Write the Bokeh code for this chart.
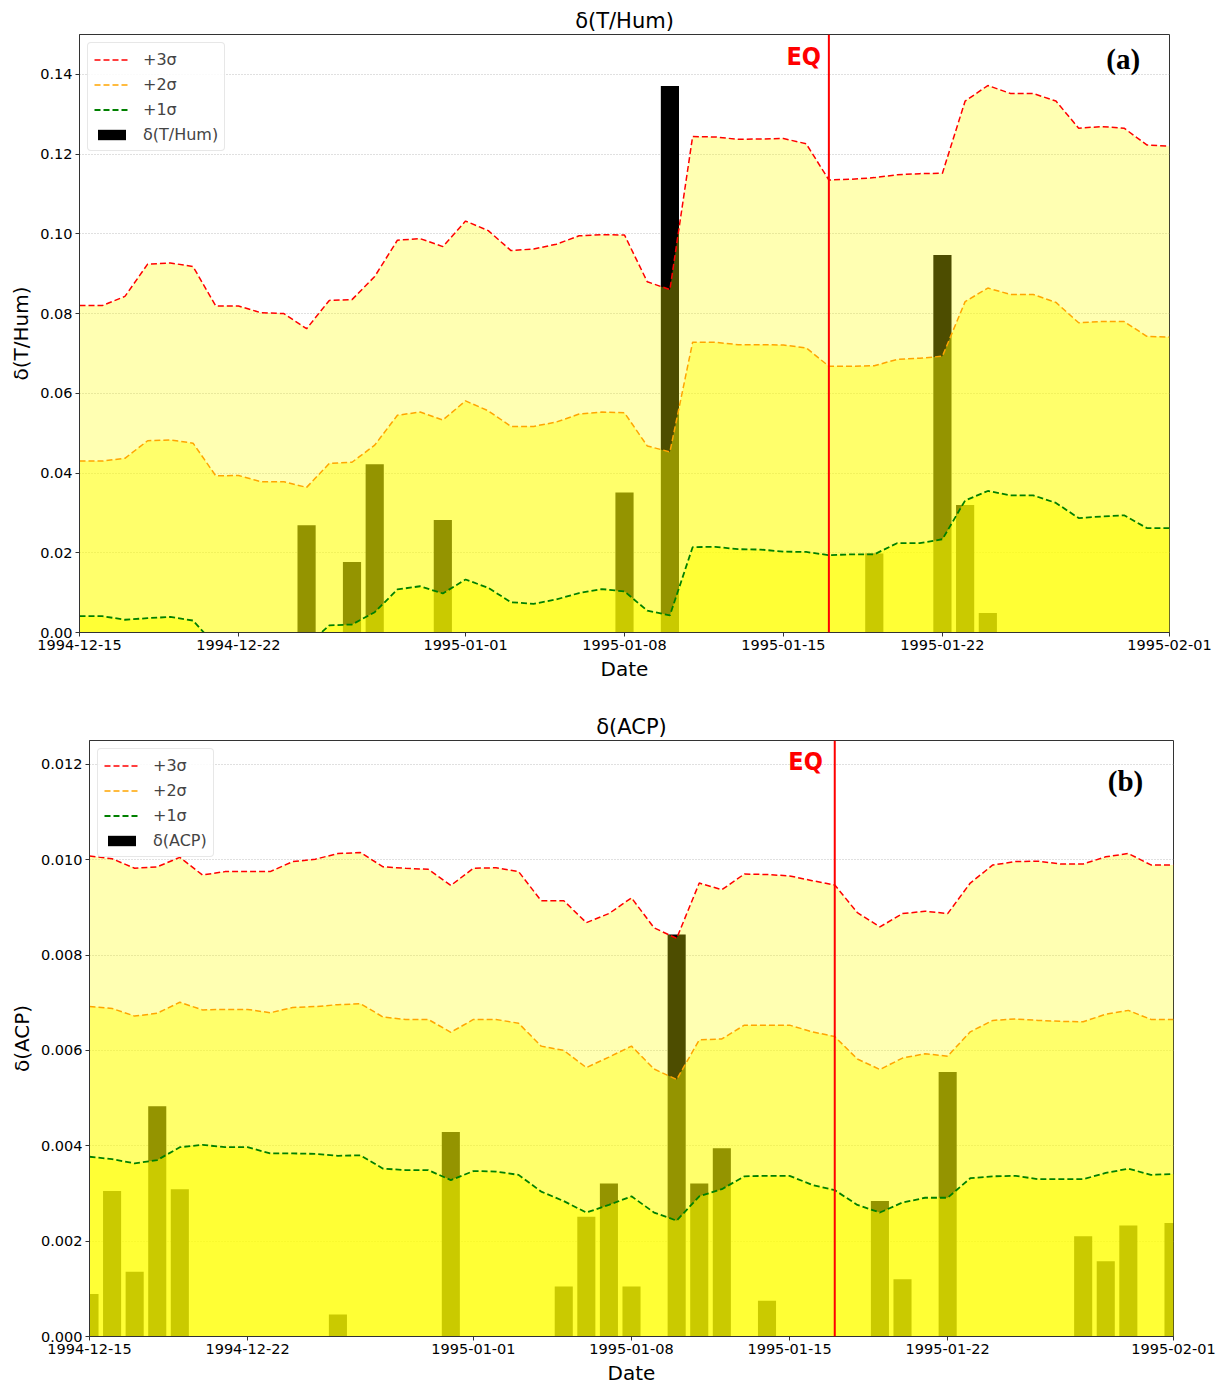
import pandas as pd
from bokeh.plotting import figure
from bokeh.models import (Range1d, FixedTicker, DatetimeTickFormatter, PrintfTickFormatter,
                          Span, Label, Legend, LegendItem)
from bokeh.embed import file_html
from bokeh.resources import INLINE

# ---------------- data ----------------
dates = [d.strftime("%Y-%m-%d") for d in pd.date_range("1994-12-15", "1995-02-01", freq="D")]
x_ticks = ["1994-12-15", "1994-12-22", "1995-01-01", "1995-01-08", "1995-01-15", "1995-01-22", "1995-02-01"]
eq_date = "1995-01-17"

thum_3s = [0.0820, 0.0820, 0.0843, 0.0924, 0.0927, 0.0918, 0.0819, 0.0819, 0.0802, 0.0800,
           0.0762, 0.0833, 0.0835, 0.0893, 0.0984, 0.0988, 0.0968, 0.1032, 0.1008, 0.0958,
           0.0962, 0.0974, 0.0995, 0.0998, 0.0997, 0.0880, 0.0860, 0.1244, 0.1243, 0.1237,
           0.1238, 0.1239, 0.1226, 0.1135, 0.1137, 0.1141, 0.1148, 0.1151, 0.1152, 0.1333,
           0.1372, 0.1352, 0.1352, 0.1333, 0.1265, 0.1269, 0.1265, 0.1223, 0.1220]
thum_2s = [0.0430, 0.0430, 0.0437, 0.0481, 0.0483, 0.0475, 0.0393, 0.0394, 0.0378, 0.0378,
           0.0364, 0.0424, 0.0427, 0.0470, 0.0545, 0.0553, 0.0533, 0.0581, 0.0556, 0.0517,
           0.0517, 0.0528, 0.0548, 0.0553, 0.0551, 0.0468, 0.0453, 0.0728, 0.0728, 0.0722,
           0.0722, 0.0721, 0.0714, 0.0668, 0.0668, 0.0669, 0.0685, 0.0688, 0.0693, 0.0830,
           0.0864, 0.0848, 0.0848, 0.0828, 0.0777, 0.0780, 0.0780, 0.0743, 0.0741]
thum_1s = [0.0041, 0.0041, 0.0032, 0.0036, 0.0039, 0.0030, -0.0033, -0.0031, -0.0046, -0.0044,
           -0.0034, 0.0018, 0.0020, 0.0051, 0.0108, 0.0116, 0.0098, 0.0133, 0.0112, 0.0076,
           0.0072, 0.0083, 0.0099, 0.0109, 0.0103, 0.0055, 0.0043, 0.0214, 0.0215, 0.0209,
           0.0208, 0.0203, 0.0202, 0.0194, 0.0196, 0.0196, 0.0224, 0.0224, 0.0234, 0.0331,
           0.0355, 0.0344, 0.0344, 0.0325, 0.0287, 0.0291, 0.0294, 0.0262, 0.0262]
thum_bar_dates = ["1994-12-25", "1994-12-27", "1994-12-28", "1994-12-31", "1995-01-08",
                  "1995-01-10", "1995-01-19", "1995-01-22", "1995-01-23", "1995-01-24"]
thum_bar_vals = [0.0269, 0.0177, 0.0422, 0.0282, 0.0351, 0.1371, 0.0198, 0.0947, 0.0320, 0.0049]

acp_3s = [0.01008, 0.01002, 0.00982, 0.00985, 0.01005, 0.00968, 0.00975, 0.00975, 0.00975, 0.00996,
          0.01001, 0.01013, 0.01015, 0.00985, 0.00982, 0.00980, 0.00946, 0.00982, 0.00983, 0.00975,
          0.00914, 0.00914, 0.00868, 0.00887, 0.00920, 0.00857, 0.00835, 0.00951, 0.00937, 0.00970,
          0.00969, 0.00966, 0.00956, 0.00947, 0.00889, 0.00859, 0.00887, 0.00892, 0.00887, 0.00951,
          0.00989, 0.00996, 0.00997, 0.00991, 0.00991, 0.01006, 0.01013, 0.00989, 0.00989]
acp_2s = [0.00692, 0.00688, 0.00672, 0.00678, 0.00701, 0.00685, 0.00686, 0.00686, 0.00679, 0.00690,
          0.00692, 0.00696, 0.00698, 0.00670, 0.00665, 0.00665, 0.00638, 0.00665, 0.00665, 0.00657,
          0.00609, 0.00600, 0.00564, 0.00586, 0.00609, 0.00561, 0.00539, 0.00622, 0.00624, 0.00653,
          0.00653, 0.00653, 0.00639, 0.00629, 0.00582, 0.00560, 0.00584, 0.00593, 0.00588, 0.00639,
          0.00663, 0.00666, 0.00663, 0.00661, 0.00660, 0.00676, 0.00684, 0.00665, 0.00665]
acp_1s = [0.00377, 0.00372, 0.00363, 0.00370, 0.00397, 0.00402, 0.00397, 0.00397, 0.00384, 0.00384,
          0.00383, 0.00379, 0.00380, 0.00352, 0.00349, 0.00349, 0.00328, 0.00347, 0.00346, 0.00339,
          0.00304, 0.00284, 0.00260, 0.00276, 0.00294, 0.00260, 0.00243, 0.00294, 0.00309, 0.00336,
          0.00337, 0.00337, 0.00318, 0.00307, 0.00276, 0.00260, 0.00281, 0.00291, 0.00291, 0.00332,
          0.00336, 0.00337, 0.00330, 0.00330, 0.00330, 0.00343, 0.00352, 0.00339, 0.00341]
acp_bar_dates = ["1994-12-15", "1994-12-16", "1994-12-17", "1994-12-18", "1994-12-19", "1994-12-26",
                 "1994-12-31", "1995-01-05", "1995-01-06", "1995-01-07", "1995-01-08", "1995-01-10",
                 "1995-01-11", "1995-01-12", "1995-01-14", "1995-01-19", "1995-01-20", "1995-01-22",
                 "1995-01-28", "1995-01-29", "1995-01-30", "1995-02-01"]
acp_bar_vals = [0.00089, 0.00305, 0.00136, 0.00483, 0.00309, 0.00046,
                0.00429, 0.00105, 0.00251, 0.00321, 0.00105, 0.00843,
                0.00321, 0.00395, 0.00075, 0.00284, 0.00120, 0.00555,
                0.00210, 0.00158, 0.00233, 0.00238]

FONT = "DejaVu Sans"
DAY = 86400000.0


def ms(s):
    return pd.Timestamp(s).value / 1e6


def panel(title, ylabel, s3, s2, s1, bdates, bvals, ymax, yticks, yfmt,
          eq_y, eq_off, tag, tag_date, tag_y, w, h, bl, br, bt, bb):
    x = [ms(d) for d in dates]
    p = figure(width=w, height=h, x_axis_type="datetime", output_backend="svg",
               toolbar_location=None,
               x_range=Range1d(ms(dates[0]), ms(dates[-1])), y_range=Range1d(0, ymax),
               min_border_left=bl, min_border_right=br, min_border_top=bt, min_border_bottom=bb)
    p.title.text = title
    p.title.align = "center"
    p.title.text_font = FONT
    p.title.text_font_size = "21px"
    p.title.text_font_style = "normal"
    p.title.text_color = "black"
    p.title.standoff = 3

    bars = p.vbar(x=[ms(d) for d in bdates], top=bvals, bottom=0, width=0.8 * DAY,
                  fill_color="black", line_color=None)
    p.varea(x=x, y1=0, y2=s3, fill_color="yellow", fill_alpha=0.3)
    p.varea(x=x, y1=0, y2=s2, fill_color="yellow", fill_alpha=0.4)
    p.varea(x=x, y1=0, y2=s1, fill_color="yellow", fill_alpha=0.5)
    l3 = p.line(x, s3, line_color="red", line_width=1.5, line_dash="6 3")
    l2 = p.line(x, s2, line_color="orange", line_width=1.5, line_dash="6 3")
    l1 = p.line(x, s1, line_color="green", line_width=1.8, line_dash="6 3")

    p.add_layout(Span(location=ms(eq_date), dimension="height", line_color="red", line_width=2))
    p.add_layout(Label(x=ms(eq_date), y=eq_y, text="EQ", text_align="right", text_baseline="middle",
                       x_offset=eq_off, text_color="red", text_font="DejaVu Sans Condensed",
                       text_font_style="bold", text_font_size="25px"))
    p.add_layout(Label(x=ms(tag_date), y=tag_y, text=tag, text_align="center", text_baseline="middle",
                       text_color="black", text_font="Liberation Serif", text_font_style="bold",
                       text_font_size="29px"))

    legend = Legend(items=[LegendItem(label="+3σ", renderers=[l3]),
                           LegendItem(label="+2σ", renderers=[l2]),
                           LegendItem(label="+1σ", renderers=[l1]),
                           LegendItem(label=title, renderers=[bars])],
                    location="top_left")
    legend.label_text_font = FONT
    legend.label_text_font_size = "16px"
    legend.glyph_width = 35
    legend.glyph_height = 13
    legend.label_height = 20
    legend.label_standoff = 14
    legend.spacing = 5
    legend.padding = 6
    legend.margin = 8
    legend.border_line_color = "#d0d0d0"
    legend.border_line_width = 1
    legend.background_fill_alpha = 0.85
    try:
        legend.border_radius = 4
    except Exception:
        pass
    p.add_layout(legend)

    p.xaxis.ticker = FixedTicker(ticks=[ms(t) for t in x_ticks])
    fmt = "%Y-%m-%d"
    p.xaxis.formatter = DatetimeTickFormatter(days=fmt, months=fmt, years=fmt, hours=fmt,
                                              minutes=fmt, seconds=fmt, milliseconds=fmt,
                                              microseconds=fmt, minsec=fmt, hourmin=fmt)
    p.yaxis.ticker = FixedTicker(ticks=yticks)
    p.yaxis.formatter = PrintfTickFormatter(format=yfmt)
    p.xaxis.axis_label = "Date"
    p.yaxis.axis_label = ylabel
    for ax in (p.xaxis, p.yaxis):
        ax.axis_label_text_font = FONT
        ax.axis_label_text_font_size = "20px"
        ax.axis_label_text_font_style = "normal"
        ax.axis_label_text_color = "black"
        ax.axis_label_standoff = 4
        ax.major_label_text_font = FONT
        ax.major_label_text_font_size = "14.5px"
        ax.major_label_text_color = "black"
        ax.major_label_standoff = 3
        ax.major_tick_out = 4
        ax.major_tick_in = 0
        ax.minor_tick_out = 0
        ax.minor_tick_in = 0
        ax.axis_line_color = "#333333"
        ax.major_tick_line_color = "#333333"
    p.xgrid.visible = False
    p.ygrid.grid_line_color = "#b0b0b0"
    p.ygrid.grid_line_dash = "1 2"
    p.ygrid.grid_line_width = 0.8
    p.outline_line_color = "#333333"
    p.outline_line_width = 1
    p.background_fill_color = "white"
    p.border_fill_color = "white"
    return p


p1 = panel("δ(T/Hum)", "δ(T/Hum)", thum_3s, thum_2s, thum_1s, thum_bar_dates, thum_bar_vals,
           0.15, [0.0, 0.02, 0.04, 0.06, 0.08, 0.10, 0.12, 0.14], "%.2f",
           0.1444, -8, "(a)", "1995-01-29 23:00", 0.1439,
           1220, 683, 79, 51, 34, 51)
p2 = panel("δ(ACP)", "δ(ACP)", acp_3s, acp_2s, acp_1s, acp_bar_dates, acp_bar_vals,
           0.0125, [0.0, 0.002, 0.004, 0.006, 0.008, 0.010, 0.012], "%.3f",
           0.01205, -12, "(b)", "1995-01-29 21:00", 0.01165,
           1220, 704, 89, 47, 57, 51)

open("out.html", "w").write(file_html([p1, p2], INLINE))
